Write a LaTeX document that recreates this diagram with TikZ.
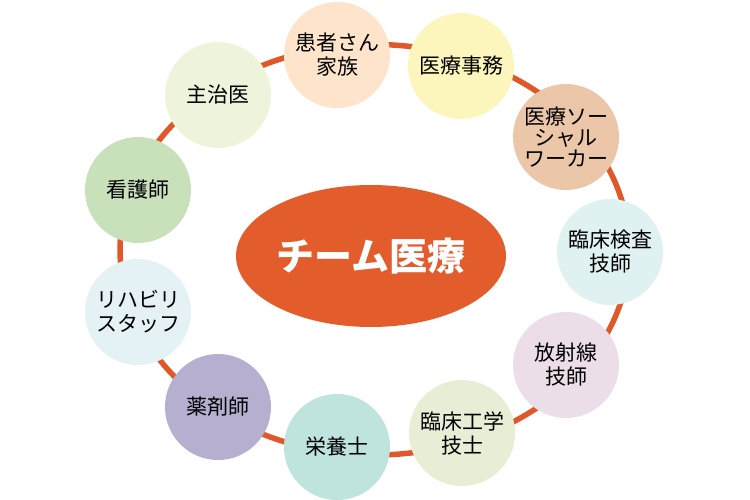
\documentclass[tikz,border=0pt]{standalone}
\usepackage{fontspec}
\setmainfont{Noto Sans CJK JP}
\usetikzlibrary{shapes.geometric}
\definecolor{ringc}{HTML}{E0582A}
\definecolor{coreC}{HTML}{E25D2B}
\definecolor{cA}{HTML}{FDE4CB}
\definecolor{cB}{HTML}{FDF6BC}
\definecolor{cC}{HTML}{EBC6A8}
\definecolor{cD}{HTML}{E0F1F1}
\definecolor{cE}{HTML}{ECDEE9}
\definecolor{cF}{HTML}{E7EED5}
\definecolor{cG}{HTML}{BFE3DD}
\definecolor{cH}{HTML}{B6AFD0}
\definecolor{cI}{HTML}{E4F2F5}
\definecolor{cJ}{HTML}{C9E1BA}
\definecolor{cK}{HTML}{EEF4DB}
\begin{document}
\begin{tikzpicture}[x=1pt,y=-1pt,
  member/.style={circle,minimum size=106pt,inner sep=0pt,align=center,
    font=\fontsize{21}{24}\selectfont,text=black},
  ringline/.style={draw=ringc,line width=5.5pt}]
\useasboundingbox (0,0) rectangle (750,500);
\draw[ringline] (374.6,249.75) ellipse [x radius=254.6pt, y radius=205.25pt];
\node[member,fill=cA] (kanja) at (337,55) {患者さん\\家族};
\node[member,fill=cB] (jimu) at (461,66) {医療事務};
\node[member,fill=cC,font=\fontsize{21}{21}\selectfont] (msw) at (566,137) {医療ソー\\シャル\\ワーカー};
\node[member,fill=cD] (kensa) at (610,252) {臨床検査\\技師};
\node[member,fill=cE] (hosha) at (566,365) {放射線\\技師};
\node[member,fill=cF] (kogaku) at (462,433) {臨床工学\\技士};
\node[member,fill=cG] (eiyo) at (337,447) {栄養士};
\node[member,fill=cH] (yaku) at (218,407) {薬剤師};
\node[member,fill=cI] (riha) at (138,312) {リハビリ\\スタッフ};
\node[member,fill=cJ] (kango) at (138,190) {看護師};
\node[member,fill=cK] (shuji) at (218,95) {主治医};
\node[ellipse,fill=coreC,minimum width=270pt,minimum height=142pt,inner sep=0pt,
  text=white,font=\fontsize{38}{40}\selectfont\bfseries] (core) at (371,256) {チーム医療};
\end{tikzpicture}
\end{document}
